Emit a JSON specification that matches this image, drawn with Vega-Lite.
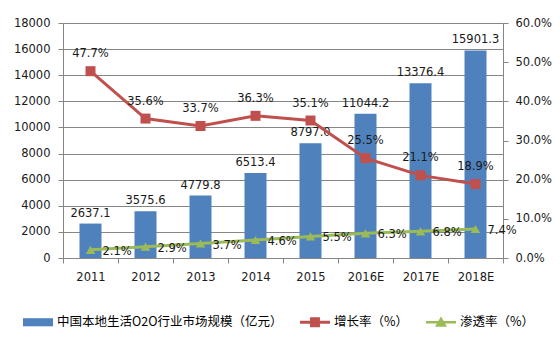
{
  "$schema": "https://vega.github.io/schema/vega-lite/v6.json",
  "width": 440,
  "height": 235,
  "autosize": {"type": "none"},
  "padding": {"left": 63, "top": 23, "right": 57, "bottom": 98},
  "background": "white",
  "config": {
    "view": {"stroke": null},
    "font": "DejaVu Sans",
    "axisRight": {
      "values": [0, 0.1, 0.2, 0.3, 0.4, 0.5, 0.6],
      "format": ".1%", "grid": false, "domainColor": "#868686", "tickColor": "#868686",
      "tickSize": 5, "labelPadding": 7, "labelFont": "DejaVu Sans", "labelFontSize": 11.5,
      "labelColor": "#1a1a1a", "labelOverlap": false, "title": null
    }
  },
  "data": {
    "values": [
      {"year": "2011", "scale": 2637.1, "growth": 0.477, "pen": 0.021},
      {"year": "2012", "scale": 3575.6, "growth": 0.356, "pen": 0.029},
      {"year": "2013", "scale": 4779.8, "growth": 0.337, "pen": 0.037},
      {"year": "2014", "scale": 6513.4, "growth": 0.363, "pen": 0.046},
      {"year": "2015", "scale": 8797.0, "growth": 0.351, "pen": 0.055},
      {"year": "2016E", "scale": 11044.2, "growth": 0.255, "pen": 0.063},
      {"year": "2017E", "scale": 13376.4, "growth": 0.211, "pen": 0.068},
      {"year": "2018E", "scale": 15901.3, "growth": 0.189, "pen": 0.074}
    ]
  },
  "encoding": {
    "x": {
      "field": "year", "type": "ordinal", "sort": null,
      "scale": {"paddingInner": 0, "paddingOuter": 0},
      "axis": {
        "title": null, "labelAngle": 0, "tickBand": "extent", "tickSize": 5,
        "domainColor": "#868686", "tickColor": "#868686", "labelPadding": 8,
        "labelFont": "DejaVu Sans", "labelFontSize": 11.5, "labelColor": "#1a1a1a"
      }
    }
  },
  "layer": [
    {
      "encoding": {
        "y": {
          "field": "scale", "type": "quantitative",
          "scale": {"domain": [0, 18000], "nice": false},
          "axis": {
            "title": null, "orient": "left",
            "values": [0, 2000, 4000, 6000, 8000, 10000, 12000, 14000, 16000, 18000],
            "grid": true, "gridColor": "#868686", "gridWidth": 1,
            "domainColor": "#868686", "tickColor": "#868686", "tickSize": 5,
            "labelPadding": 8, "labelFont": "DejaVu Sans", "labelFontSize": 11.5,
            "labelColor": "#1a1a1a", "format": "d"
          }
        }
      },
      "layer": [
        {
          "mark": {"type": "bar", "width": {"band": 0.4}},
          "encoding": {
            "color": {
              "datum": "中国本地生活O2O行业市场规模（亿元）",
              "scale": {
                "domain": ["中国本地生活O2O行业市场规模（亿元）", "增长率（%）", "渗透率（%）"],
                "range": ["#4F81BD", "#C0504D", "#9BBB59"]
              },
              "legend": {
                "title": null, "orient": "none", "legendX": -40, "legendY": 284,
                "direction": "horizontal", "symbolSize": 900,
                "labelFont": "Noto Sans CJK SC", "labelFontSize": 12.5, "labelColor": "#000000",
                "labelOffset": 4, "columnPadding": 17, "labelLimit": 400,
                "symbolStrokeWidth": 0, "symbolOpacity": 1,
                "encode": {
                  "symbols": {
                    "update": {
                      "shape": {"signal": "datum.value === '增长率（%）' ? 'M-1,-0.1L1,-0.1L1,0.1L-1,0.1Z M-0.33,-0.33L0.33,-0.33L0.33,0.33L-0.33,0.33Z' : datum.value === '渗透率（%）' ? 'M-1,-0.08L1,-0.08L1,0.08L-1,0.08Z M0,-0.38L0.4,0.3L-0.4,0.3Z' : 'M-1,-0.27L1,-0.27L1,0.27L-1,0.27Z'"},
                      "fill": {"signal": "datum.value === '增长率（%）' ? '#C0504D' : datum.value === '渗透率（%）' ? '#9BBB59' : '#4F81BD'"},
                      "stroke": {"value": "transparent"},
                      "opacity": {"value": 1}
                    }
                  }
                }
              }
            }
          }
        },
        {
          "mark": {"type": "text", "baseline": "bottom", "dy": -5, "fontSize": 11.5, "font": "DejaVu Sans", "color": "#1a1a1a"},
          "encoding": {"text": {"field": "scale", "type": "quantitative", "format": ".1f"}}
        }
      ]
    },
    {
      "layer": [
        {
          "mark": {"type": "line", "strokeWidth": 3},
          "encoding": {
            "y": {
              "field": "growth", "type": "quantitative",
              "scale": {"domain": [0, 0.6], "nice": false},
              "axis": {"orient": "right", "title": null}
            },
            "color": {"datum": "增长率（%）"}
          }
        },
        {
          "mark": {"type": "point", "shape": "square", "filled": true, "size": 100, "opacity": 1},
          "encoding": {
            "y": {"field": "growth", "type": "quantitative", "axis": {"orient": "right", "title": null}},
            "color": {"datum": "增长率（%）"}
          }
        },
        {
          "mark": {"type": "text", "dy": -17, "fontSize": 11.5, "font": "DejaVu Sans", "color": "#1a1a1a"},
          "encoding": {
            "y": {"field": "growth", "type": "quantitative", "axis": {"orient": "right", "title": null}},
            "text": {"field": "growth", "type": "quantitative", "format": ".1%"}
          }
        },
        {
          "mark": {"type": "line", "strokeWidth": 3},
          "encoding": {
            "y": {"field": "pen", "type": "quantitative", "axis": {"orient": "right", "title": null}},
            "color": {"datum": "渗透率（%）"}
          }
        },
        {
          "mark": {"type": "point", "shape": "triangle-up", "filled": true, "size": 90, "opacity": 1},
          "encoding": {
            "y": {"field": "pen", "type": "quantitative", "axis": {"orient": "right", "title": null}},
            "color": {"datum": "渗透率（%）"}
          }
        },
        {
          "mark": {"type": "text", "align": "left", "dx": 12, "dy": 2, "fontSize": 11.5, "font": "DejaVu Sans", "color": "#1a1a1a"},
          "encoding": {
            "y": {"field": "pen", "type": "quantitative", "axis": {"orient": "right", "title": null}},
            "text": {"field": "pen", "type": "quantitative", "format": ".1%"}
          }
        }
      ]
    }
  ],
  "resolve": {"scale": {"y": "independent"}}
}
